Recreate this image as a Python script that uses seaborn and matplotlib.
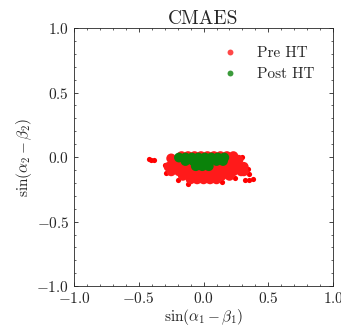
import pandas as pd
import seaborn as sns
import matplotlib.pyplot as plt
from matplotlib.ticker import MultipleLocator

# ---- data ----
pre_x = [-0.17, -0.12, -0.07, -0.02, 0.03, 0.08, 0.13, 0.18, 0.23,
         -0.22, -0.17, -0.11, -0.05, 0.00, 0.05, 0.10, 0.15, 0.20, 0.25,
         -0.27, -0.21, -0.15, -0.09, -0.03, 0.03, 0.09, 0.15, 0.21, 0.27, 0.31,
         -0.25, -0.19, -0.13, -0.07, -0.01, 0.05, 0.11, 0.17, 0.23, 0.29, 0.31,
         -0.16, -0.10, -0.04, 0.02, 0.08, 0.14, 0.20,
         -0.10, -0.05, 0.00, 0.05, 0.10,
         -0.25, 0.27]
pre_y = [0.008, 0.008, 0.008, 0.008, 0.008, 0.008, 0.008, 0.008, 0.008,
         -0.035, -0.035, -0.035, -0.035, -0.035, -0.035, -0.035, -0.035, -0.035, -0.035,
         -0.075, -0.075, -0.075, -0.075, -0.075, -0.075, -0.075, -0.075, -0.075, -0.075, -0.075,
         -0.11, -0.11, -0.11, -0.11, -0.11, -0.11, -0.11, -0.11, -0.11, -0.11, -0.11,
         -0.145, -0.145, -0.145, -0.145, -0.145, -0.145, -0.145,
         -0.172, -0.172, -0.172, -0.172, -0.172,
         -0.01, -0.02]

post_x = [-0.19, -0.14, -0.09, -0.04, 0.01, 0.06, 0.11, 0.16,
          -0.14, -0.08, -0.02, 0.04, 0.10, 0.15,
          -0.06, -0.01, 0.04]
post_y = [-0.003, -0.003, -0.003, -0.003, -0.003, -0.003, -0.003, -0.003,
          -0.03, -0.03, -0.03, -0.03, -0.03, -0.03,
          -0.07, -0.07, -0.07]

# small detached red clusters and ragged edge specks
side_x = [-0.425, -0.405, -0.385, 0.32, 0.35, 0.38,
          -0.30, -0.29, 0.34, 0.35, -0.20, 0.24, 0.30, -0.12, 0.14]
side_y = [-0.015, -0.02, -0.02, -0.175, -0.175, -0.17,
          -0.06, -0.12, -0.09, -0.13, -0.18, -0.16, 0.0, -0.205, -0.195]

df = pd.DataFrame({
    'x': pre_x + post_x,
    'y': pre_y + post_y,
    'group': ['Pre HT'] * len(pre_x) + ['Post HT'] * len(post_x),
})
side = pd.DataFrame({'x': side_x, 'y': side_y})

sns.set_style('ticks')
plt.rcParams['font.family'] = 'serif'
plt.rcParams['font.serif'] = ['cmr10', 'DejaVu Serif']
plt.rcParams['mathtext.fontset'] = 'cm'
plt.rcParams['axes.formatter.use_mathtext'] = True
plt.rcParams['axes.unicode_minus'] = True

fig = plt.figure(figsize=(3.41, 3.26), dpi=100)
ax = fig.add_axes([0.217, 0.122, 0.760, 0.792])

sns.scatterplot(data=side, x='x', y='y', color='red', s=14,
                linewidth=0, legend=False, ax=ax)
sns.scatterplot(data=df, x='x', y='y', hue='group',
                palette={'Pre HT': '#ff1a1a', 'Post HT': '#0a820a'},
                s=50, linewidth=0, ax=ax)

ax.set_xlim(-1, 1)
ax.set_ylim(-1, 1)
ax.xaxis.set_major_locator(MultipleLocator(0.5))
ax.yaxis.set_major_locator(MultipleLocator(0.5))
ax.xaxis.set_minor_locator(MultipleLocator(0.1))
ax.yaxis.set_minor_locator(MultipleLocator(0.1))
ax.tick_params(which='both', direction='in', top=True, right=True, labelsize=11)
ax.tick_params(which='major', length=3, width=0.6)
ax.tick_params(which='minor', length=1.5, width=0.5)
for sp in ax.spines.values():
    sp.set_linewidth(0.6)

ax.set_xlabel(r'$\sin(\alpha_1 - \beta_1)$', fontsize=11, labelpad=1)
ax.set_ylabel(r'$\sin(\alpha_2 - \beta_2)$', fontsize=11, labelpad=2)
ax.set_title('CMAES', fontsize=14, pad=3)

leg = ax.legend(loc='upper right', frameon=False, fontsize=11, markerscale=0.6,
                borderaxespad=0.8, title=None)
for h in leg.legend_handles:
    h.set_alpha(0.8)

fig.savefig('out.png', dpi=100)
